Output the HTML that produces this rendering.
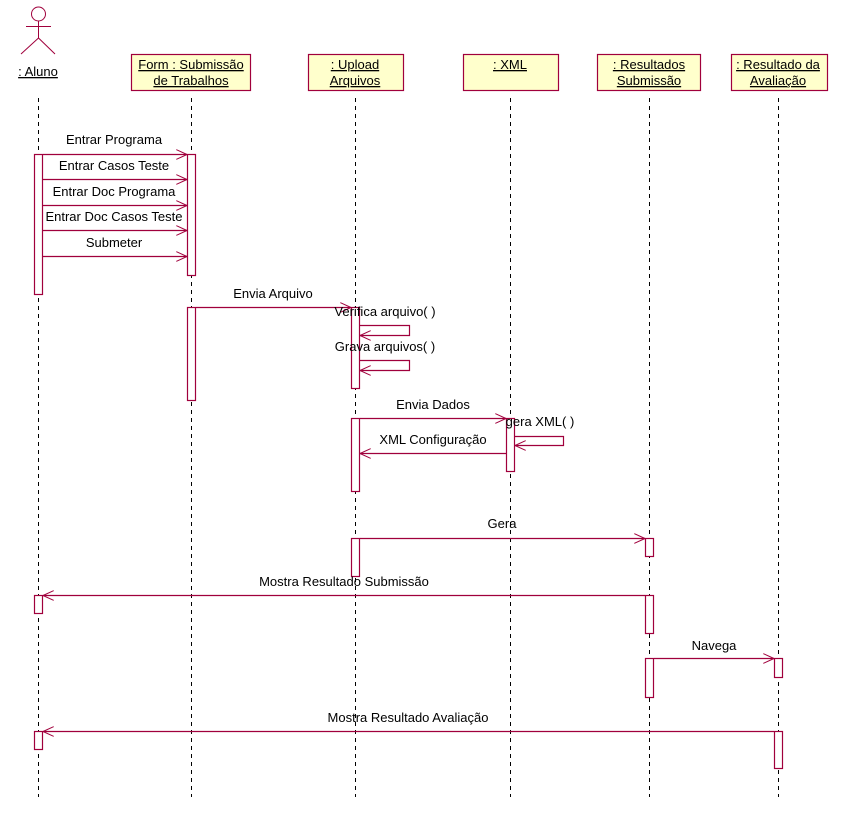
<!DOCTYPE html>
<html><head><meta charset="utf-8"><style>
html,body{margin:0;padding:0;background:#fff;}
svg text{font-family:"Liberation Sans",sans-serif;font-size:13px;fill:#000;}
</style></head><body>
<svg width="841" height="827" xmlns="http://www.w3.org/2000/svg">
<defs>
<marker id="a" markerWidth="12" markerHeight="10" refX="11" refY="5" orient="auto" markerUnits="userSpaceOnUse">
<path d="M0,0 L11,5 L0,10" fill="none" stroke="#a0003c" stroke-width="1"/></marker>
</defs>
<g stroke="#000" stroke-dasharray="4,4" stroke-width="1">
<line x1="38.5" y1="98" x2="38.5" y2="797"/>
<line x1="191.5" y1="98" x2="191.5" y2="797"/>
<line x1="355.5" y1="98" x2="355.5" y2="797"/>
<line x1="510.5" y1="98" x2="510.5" y2="797"/>
<line x1="649.5" y1="98" x2="649.5" y2="797"/>
<line x1="778.5" y1="98" x2="778.5" y2="797"/>
</g>
<g stroke="#a0003c" fill="none" stroke-width="1">
<circle cx="38.5" cy="14" r="7"/>
<line x1="38.5" y1="21" x2="38.5" y2="38"/>
<line x1="26" y1="26.5" x2="51" y2="26.5"/>
<line x1="38.5" y1="38" x2="21" y2="54"/>
<line x1="38.5" y1="38" x2="55" y2="54"/>
</g>
<g stroke="#a0003c" fill="#ffffcc" stroke-width="1.2">
<rect x="131.5" y="54.5" width="119" height="36"/>
<rect x="308.5" y="54.5" width="95" height="36"/>
<rect x="463.5" y="54.5" width="95" height="36"/>
<rect x="597.5" y="54.5" width="103" height="36"/>
<rect x="731.5" y="54.5" width="96" height="36"/>
</g>
<g text-anchor="middle" text-decoration="underline">
<text x="38" y="76">: Aluno</text>
<text x="191" y="69">Form : Submissão</text><text x="191" y="85">de Trabalhos</text>
<text x="355" y="69">: Upload</text><text x="355" y="85">Arquivos</text>
<text x="510" y="69">: XML</text>
<text x="649" y="69">: Resultados</text><text x="649" y="85">Submissão</text>
<text x="778" y="69">: Resultado da</text><text x="778" y="85">Avaliação</text>
</g>
<g stroke="#a0003c" fill="#fff" stroke-width="1.2">
<rect x="34.5" y="154.5" width="8" height="140"/>
<rect x="187.5" y="154.5" width="8" height="121"/>
<rect x="187.5" y="307.5" width="8" height="93"/>
<rect x="351.5" y="307.5" width="8" height="81"/>
<rect x="351.5" y="418.5" width="8" height="73"/>
<rect x="506.5" y="418.5" width="8" height="53"/>
<rect x="351.5" y="538.5" width="8" height="38"/>
<rect x="645.5" y="538.5" width="8" height="18"/>
<rect x="34.5" y="595.5" width="8" height="18"/>
<rect x="645.5" y="595.5" width="8" height="38"/>
<rect x="645.5" y="658.5" width="8" height="39"/>
<rect x="774.5" y="658.5" width="8" height="19"/>
<rect x="34.5" y="731.5" width="8" height="18"/>
<rect x="774.5" y="731.5" width="8" height="37"/>
</g>
<g stroke="#a0003c" fill="none" stroke-width="1.2" marker-end="url(#a)">
<line x1="43" y1="154.5" x2="187" y2="154.5"/>
<line x1="43" y1="179.5" x2="187" y2="179.5"/>
<line x1="43" y1="205.5" x2="187" y2="205.5"/>
<line x1="43" y1="230.5" x2="187" y2="230.5"/>
<line x1="43" y1="256.5" x2="187" y2="256.5"/>
<line x1="196" y1="307.5" x2="351" y2="307.5"/>
<polyline points="360,325.5 409.5,325.5 409.5,335.5 360,335.5"/>
<polyline points="360,360.5 409.5,360.5 409.5,370.5 360,370.5"/>
<line x1="360" y1="418.5" x2="506" y2="418.5"/>
<polyline points="515,436.5 563.5,436.5 563.5,445.5 515,445.5"/>
<line x1="506" y1="453.5" x2="360" y2="453.5"/>
<line x1="360" y1="538.5" x2="645" y2="538.5"/>
<line x1="645" y1="595.5" x2="43" y2="595.5"/>
<line x1="654" y1="658.5" x2="774" y2="658.5"/>
<line x1="774" y1="731.5" x2="43" y2="731.5"/>
</g>
<g text-anchor="middle">
<text x="114" y="144">Entrar Programa</text>
<text x="114" y="170">Entrar Casos Teste</text>
<text x="114" y="196">Entrar Doc Programa</text>
<text x="114" y="221">Entrar Doc Casos Teste</text>
<text x="114" y="247">Submeter</text>
<text x="273" y="298">Envia Arquivo</text>
<text x="385" y="316">Verifica arquivo( )</text>
<text x="385" y="351">Grava arquivos( )</text>
<text x="433" y="409">Envia Dados</text>
<text x="540" y="426">gera XML( )</text>
<text x="433" y="444">XML Configuração</text>
<text x="502" y="528">Gera</text>
<text x="344" y="586">Mostra Resultado Submissão</text>
<text x="714" y="650">Navega</text>
<text x="408" y="722">Mostra Resultado Avaliação</text>
</g>
</svg>
</body></html>
